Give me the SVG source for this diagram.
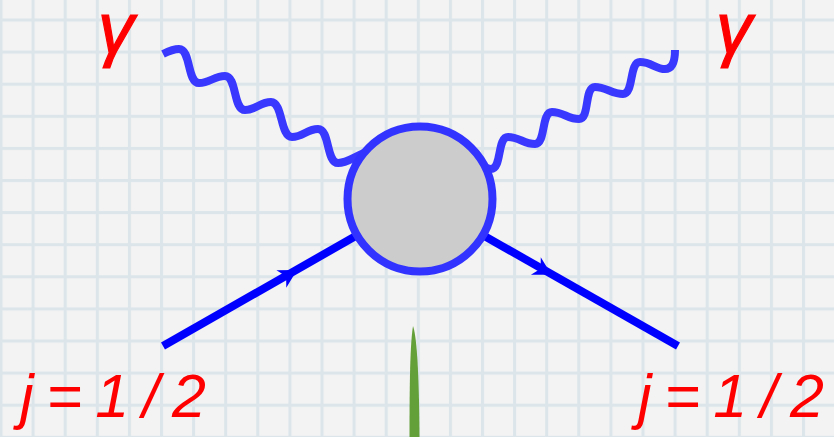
<svg xmlns="http://www.w3.org/2000/svg" width="834" height="437" viewBox="0 0 834 437">
  <style>
    .photon { fill: none; stroke: #3838ff; stroke-width: 8; stroke-linecap: butt; stroke-linejoin: round; }
    .fermion { fill: none; stroke: #0000ff; stroke-width: 8; stroke-linecap: butt; }
    .arrow { fill: #0000ff; }
    .label { font-family: "Liberation Sans", Arial, sans-serif; font-style: italic; fill: #ff0000; }
    .gamma { font-size: 72px; stroke: #ff0000; stroke-width: 1.2px; }
    .spin { font-size: 61px; }
  </style>
  <defs>
    <pattern id="grid" patternUnits="userSpaceOnUse" x="-0.5" y="18.5" width="32.1" height="32.1">
      <rect width="32.1" height="32.1" fill="#f3f3f3"/>
      <rect x="0" y="0" width="3" height="32.1" fill="#dbe5ea"/>
      <rect x="0" y="0" width="32.1" height="3" fill="#dbe5ea"/>
    </pattern>
    <path id="arrowhead" d="M0,0 L-18,-10 L-12.5,0 L-18,10 Z"/>
  </defs>

  <rect id="background" x="0" y="0" width="834" height="437" fill="url(#grid)"/>

  <g id="connectors">
    <path id="photon-left" class="photon" d="M163,54 C169,51 173,49 179,49 C191,49 187,83 199,83 C210,83 214,76 225,76 C237,76 233,110 245,110 C256,110 260,102 271,102 C283,102 280,137 292,137 C303,137 307,129 318,129 C330,129 326,163 338,163 C347,163 352,158 364,153"/>
    <path id="photon-right" class="photon" d="M466,154 C478,160 482,169 491,169 C502,169 497,137 508,137 C519,137 524,144 535,144 C546,144 541,112 552,112 C563,112 568,119 579,119 C590,119 584,87 595,87 C606,87 612,94 623,94 C634,94 629,62 640,62 C651,62 656,69 665,69 C672,69 675,63 675,50"/>
    <line id="fermion-left" class="fermion" x1="163" y1="346" x2="375" y2="225"/>
    <line id="fermion-right" class="fermion" x1="465" y1="225" x2="678" y2="346"/>
    <use href="#arrowhead" class="arrow" transform="translate(297,270.1) rotate(-29.6)"/>
    <use href="#arrowhead" class="arrow" transform="translate(551.5,274.8) rotate(29.5)"/>
  </g>

  <g id="vertex">
    <circle cx="420" cy="199" r="72.5" fill="#cccccc" stroke="#3333ff" stroke-width="8"/>
  </g>

  <g id="label-gamma-left">
    <text class="label gamma" x="98" y="53">γ</text>
  </g>
  <g id="label-gamma-right">
    <text class="label gamma" x="716" y="53">γ</text>
  </g>
  <g id="label-spin-left">
    <text class="label spin" x="20" y="417">j<tspan dx="13">=</tspan><tspan dx="13">1</tspan><tspan dx="13">/</tspan><tspan dx="13">2</tspan></text>
  </g>
  <g id="label-spin-right">
    <text class="label spin" x="638" y="417">j<tspan dx="13">=</tspan><tspan dx="13">1</tspan><tspan dx="13">/</tspan><tspan dx="13">2</tspan></text>
  </g>

  <path id="grass-blade" d="M413,326 C416,334 419,362 419.5,437 L409.5,437 C409.5,385 410,345 413,326 Z" fill="#64a03a"/>
</svg>
